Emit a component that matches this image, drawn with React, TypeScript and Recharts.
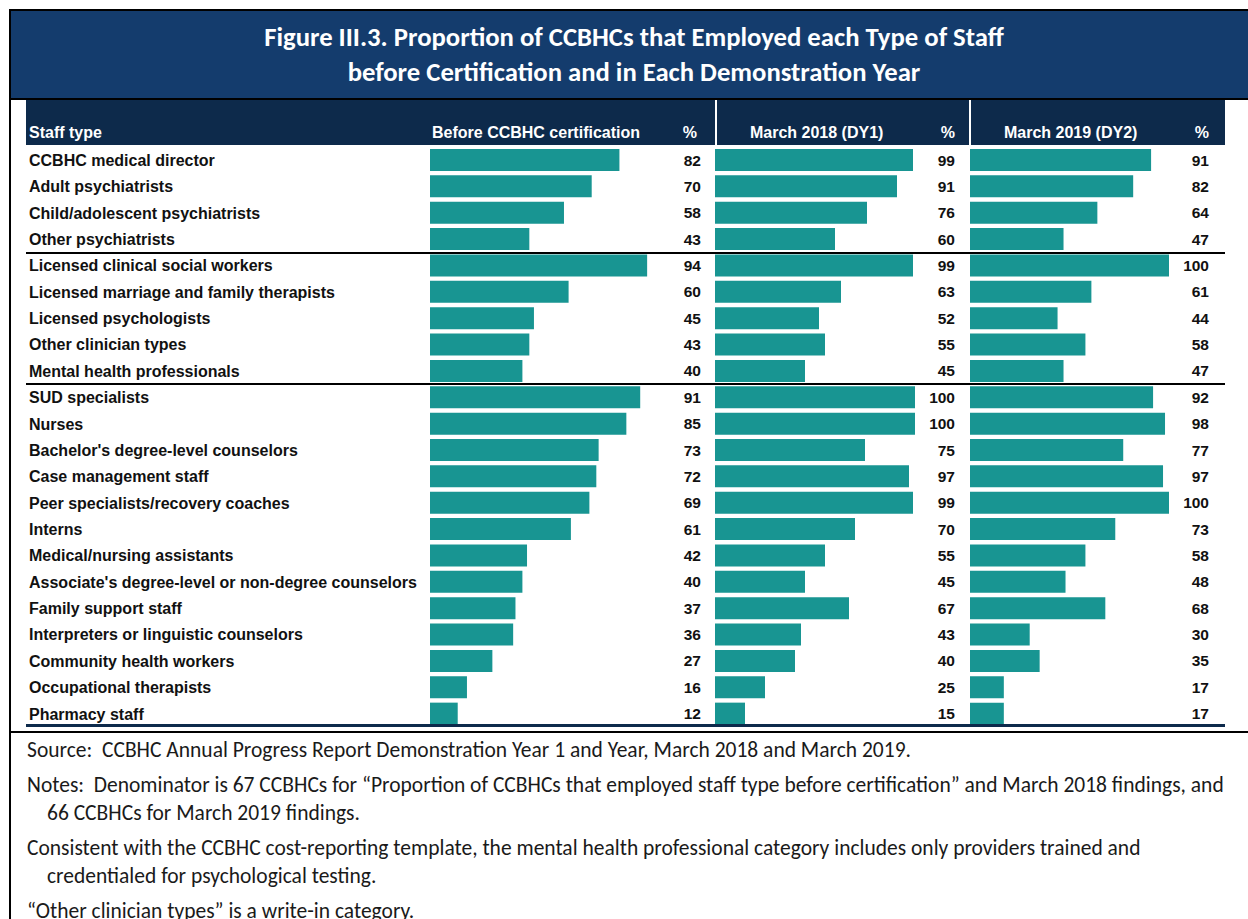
import React from 'react';
import { BarChart, Bar, XAxis, YAxis, LabelList } from 'recharts';

const staffTypes = [
  'CCBHC medical director',
  'Adult psychiatrists',
  'Child/adolescent psychiatrists',
  'Other psychiatrists',
  'Licensed clinical social workers',
  'Licensed marriage and family therapists',
  'Licensed psychologists',
  'Other clinician types',
  'Mental health professionals',
  'SUD specialists',
  'Nurses',
  "Bachelor's degree-level counselors",
  'Case management staff',
  'Peer specialists/recovery coaches',
  'Interns',
  'Medical/nursing assistants',
  "Associate's degree-level or non-degree counselors",
  'Family support staff',
  'Interpreters or linguistic counselors',
  'Community health workers',
  'Occupational therapists',
  'Pharmacy staff',
];
const beforeCert = [82, 70, 58, 43, 94, 60, 45, 43, 40, 91, 85, 73, 72, 69, 61, 42, 40, 37, 36, 27, 16, 12];
const march2018 = [99, 91, 76, 60, 99, 63, 52, 55, 45, 100, 100, 75, 97, 99, 70, 55, 45, 67, 43, 40, 25, 15];
const march2019 = [91, 82, 64, 47, 100, 61, 44, 58, 47, 92, 98, 77, 97, 100, 73, 58, 48, 68, 30, 35, 17, 17];
const groupStarts = [4, 9];

const columnHeaders = ['Before CCBHC certification', 'March 2018 (DY1)', 'March 2019 (DY2)'];
const titleLines = [
  'Figure III.3. Proportion of CCBHCs that Employed each Type of Staff',
  'before Certification and in Each Demonstration Year',
];
const notes = [
  { first: 'Source:  CCBHC Annual Progress Report Demonstration Year 1 and Year, March 2018 and March 2019.', rest: [] as string[] },
  {
    first: 'Notes:  Denominator is 67 CCBHCs for \u201cProportion of CCBHCs that employed staff type before certification\u201d and March 2018 findings, and',
    rest: ['66 CCBHCs for March 2019 findings.'],
  },
  {
    first: 'Consistent with the CCBHC cost-reporting template, the mental health professional category includes only providers trained and',
    rest: ['credentialed for psychological testing.'],
  },
  { first: '\u201cOther clinician types\u201d is a write-in category.', rest: [] as string[] },
];

const rows = staffTypes.map((s, i) => ({ staff: s, before: beforeCert[i], dy1: march2018[i], dy2: march2019[i] }));

const TEAL = '#189592';
const NAVY = '#0d2a4b';
const BANNER = '#143c6d';
const ARIAL = '"Liberation Sans", Arial, sans-serif';
const CAL = 'Carlito, Lato, "Open Sans", sans-serif';

const ROW_TOP = 147;
const N = rows.length;
const ROW_H = 26.38;
const CHART_H = Math.round(N * ROW_H);

const StaffTick = (props: any) => {
  const { y, payload } = props;
  return (
    <text x={29} y={y} dy="0.36em" textAnchor="start" fontFamily={ARIAL} fontWeight="bold" fontSize={16} fill="#111">
      {payload.value}
    </text>
  );
};

const makeValueLabel = (xRight: number) => (props: any) => {
  const { y, height, value } = props;
  return (
    <text x={xRight} y={y + height / 2} dy="0.36em" textAnchor="end" fontFamily={ARIAL} fontWeight="bold" fontSize={15.5} fill="#111">
      {value}
    </text>
  );
};

const panels = [
  { key: 'before', left: 0, width: 720, plotLeft: 430, plotRight: 661, labelX: 701, header: columnHeaders[0], headerX: 432, pctX: 697 },
  { key: 'dy1', left: 700, width: 270, plotLeft: 715, plotRight: 915, labelX: 955, header: columnHeaders[1], headerX: 750, pctX: 955 },
  { key: 'dy2', left: 955, width: 270, plotLeft: 970, plotRight: 1169, labelX: 1209, header: columnHeaders[2], headerX: 1004, pctX: 1209 },
];

export default function App() {
  return (
    <div style={{ position: 'absolute', left: 0, top: 0, width: 1248, height: 919, background: '#fff', overflow: 'hidden' }}>
      {/* outer borders */}
      <div style={{ position: 'absolute', left: 9, top: 9, width: 1239, height: 2, background: '#000' }} />
      <div style={{ position: 'absolute', left: 9, top: 9, width: 2, height: 910, background: '#000' }} />
      {/* banner */}
      <div style={{ position: 'absolute', left: 11, top: 11, width: 1237, height: 87, background: BANNER }} />
      <div style={{ position: 'absolute', left: 9, top: 98, width: 1239, height: 2, background: '#000' }} />
      {titleLines.map((t, i) => (
        <div
          key={i}
          style={{
            position: 'absolute', left: 20, width: 1228, top: 20 + i * 35, textAlign: 'center',
            fontFamily: CAL, fontWeight: 'bold', fontSize: 26.7, color: '#fff', lineHeight: '34px', whiteSpace: 'nowrap',
          }}
        >
          {t}
        </div>
      ))}
      {/* header band */}
      <div style={{ position: 'absolute', left: 26, top: 100, width: 1199, height: 45, background: NAVY }} />
      <div style={{ position: 'absolute', left: 715, top: 100, width: 2, height: 45, background: '#fff' }} />
      <div style={{ position: 'absolute', left: 969, top: 100, width: 2, height: 45, background: '#fff' }} />
      <div style={{ position: 'absolute', left: 29, top: 124, fontFamily: ARIAL, fontWeight: 'bold', fontSize: 16, color: '#fff', whiteSpace: 'nowrap' }}>
        Staff type
      </div>
      {panels.map((p) => (
        <React.Fragment key={p.key + 'h'}>
          <div style={{ position: 'absolute', left: p.headerX, top: 124, fontFamily: ARIAL, fontWeight: 'bold', fontSize: 16, color: '#fff', whiteSpace: 'nowrap' }}>
            {p.header}
          </div>
          <div style={{ position: 'absolute', left: p.pctX - 40, width: 40, textAlign: 'right', top: 124, fontFamily: ARIAL, fontWeight: 'bold', fontSize: 16, color: '#fff' }}>
            %
          </div>
        </React.Fragment>
      ))}
      {/* charts */}
      {panels.map((p, idx) => (
        <div key={p.key} style={{ position: 'absolute', left: p.left, top: ROW_TOP, width: p.width, height: CHART_H }}>
          <BarChart
            width={p.width}
            height={CHART_H}
            data={rows}
            layout="vertical"
            margin={{ top: 0, bottom: 0, left: idx === 0 ? 0 : p.plotLeft - p.left, right: p.left + p.width - p.plotRight }}
            barCategoryGap={0}
          >
            <XAxis type="number" domain={[0, 100]} hide />
            <YAxis
              type="category"
              dataKey="staff"
              width={idx === 0 ? p.plotLeft : 0}
              hide={idx !== 0}
              axisLine={false}
              tickLine={false}
              interval={0}
              tick={<StaffTick />}
            />
            <Bar dataKey={p.key} fill={TEAL} barSize={22} isAnimationActive={false}>
              <LabelList dataKey={p.key} content={makeValueLabel(p.labelX - p.left)} />
            </Bar>
          </BarChart>
        </div>
      ))}
      {/* group separators */}
      {groupStarts.map((g) => (
        <div key={g} style={{ position: 'absolute', left: 26, top: ROW_TOP + g * ROW_H - 1, width: 1199, height: 2, background: '#000' }} />
      ))}
      {/* bottom rules */}
      <div style={{ position: 'absolute', left: 26, top: 724, width: 1199, height: 3, background: NAVY }} />
      <div style={{ position: 'absolute', left: 9, top: 731, width: 1239, height: 2, background: '#000' }} />
      {/* notes */}
      <div style={{ position: 'absolute', left: 27, top: 736, width: 1221, fontFamily: CAL, fontSize: 21.5, color: '#1a1a1a', lineHeight: '28px' }}>
        {notes.map((n, i) => (
          <div key={i} style={{ marginBottom: 7 }}>
            <div style={{ whiteSpace: 'pre' }}>{n.first}</div>
            {n.rest.map((r, j) => (
              <div key={j} style={{ paddingLeft: 20, whiteSpace: 'pre' }}>{r}</div>
            ))}
          </div>
        ))}
      </div>
    </div>
  );
}
